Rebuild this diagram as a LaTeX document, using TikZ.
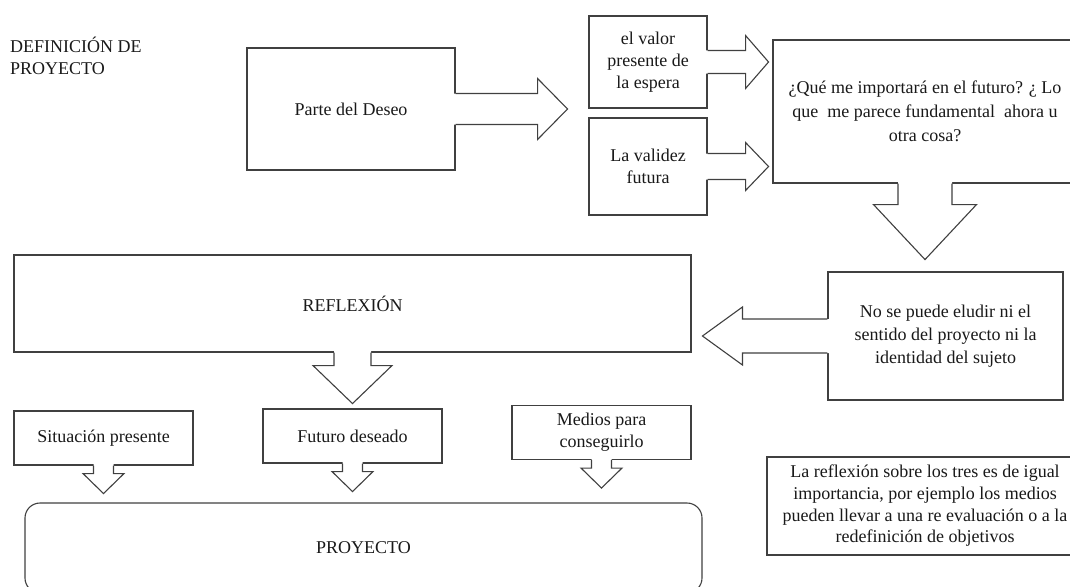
\documentclass[tikz,border=0pt]{standalone}
\usepackage{fontspec}
\setmainfont{Liberation Serif}

\tikzset{
    box/.style={draw=black!75, line width=1.1pt, fill=white, inner sep=0pt, align=center,
        text=black!90, font=\fontsize{18}{22}\selectfont},
    outline/.style={draw=black!75, line width=1.1pt, line join=miter},
    % block arrow: #1 shaft length, #2 half shaft, #3 half head, #4 head length
    pics/blockarrow/.style n args={4}{code={
        \fill[white] (-2,-#2) -- (#1,-#2) -- (#1,-#3) -- (#1+#4,0) -- (#1,#3) -- (#1,#2) -- (-2,#2) -- cycle;
        \draw[outline] (0,-#2) -- (#1,-#2) -- (#1,-#3) -- (#1+#4,0) -- (#1,#3) -- (#1,#2) -- (0,#2);
    }}
}

\begin{document}
\begin{tikzpicture}[x=1pt,y=-1pt]

    % page frame
    \useasboundingbox (0,0) rectangle (1070,586);

    % title
    \node[anchor=west, align=left, inner sep=0pt, text=black!90, font=\fontsize{18}{21.5}\selectfont]
        (titulo) at (10,56) {DEFINICIÓN DE\\PROYECTO};

    % top row
    \node[box, minimum width=208pt, minimum height=122pt] (parte) at (351,109) {Parte del Deseo};
    \node[box, minimum width=118pt, minimum height=92pt] (valor) at (648,62) {el valor\\presente de\\la espera};
    \node[box, minimum width=118pt, minimum height=97pt] (validez) at (648,166.5) {La validez\\futura};
    \node[box, minimum width=304pt, minimum height=143pt, font=\fontsize{18}{24}\selectfont]
        (pregunta) at (925,111.5) {¿Qué me importará en el futuro? ¿ Lo\\que~ me parece fundamental~ ahora u\\otra cosa?};

    % middle row
    \node[box, minimum width=677pt, minimum height=97pt] (reflexion) at (352.5,303.5) {REFLEXIÓN};
    \node[box, minimum width=235pt, minimum height=128pt, font=\fontsize{18}{23}\selectfont]
        (nopuede) at (945.5,336) {No se puede eludir ni el\\sentido del proyecto ni la\\identidad del sujeto};

    % bottom row
    \foreach \name/\pos/\txt in {situacion/{(103.5,438)}/{Situación presente},
                                 futuro/{(352.5,436)}/{Futuro deseado},
                                 medios/{(601.5,432.5)}/{Medios para\\conseguirlo}}
        \node[box, minimum width=179pt, minimum height=54pt] (\name) at \pos {\txt};

    \node[box, rounded corners=15pt, minimum width=677pt, minimum height=90pt] (proyecto) at (363.5,548) {PROYECTO};
    \node[box, minimum width=316pt, minimum height=98pt, font=\fontsize{18}{21.7}\selectfont]
        (nota) at (925,506) {La reflexión sobre los tres es de igual\\importancia, por ejemplo los medios\\pueden llevar a una re evaluación o a la\\redefinición de objetivos};

    % block arrows
    \pic at (parte.east) {blockarrow={82}{15.5}{30.5}{30}};
    \pic at (valor.east) {blockarrow={38}{11.5}{26.5}{23}};
    \pic at (validez.east) {blockarrow={38}{13}{24}{23}};
    \pic[rotate=-90] at (pregunta.south) {blockarrow={21}{27}{51.5}{55}};
    \pic[rotate=180] at (nopuede.west) {blockarrow={85}{17}{29}{40}};
    \pic[rotate=-90] at (reflexion.south) {blockarrow={13}{18.5}{39.5}{38}};
    \foreach \b in {situacion,futuro,medios}
        \pic[rotate=-90] at (\b.south) {blockarrow={8}{10}{20.5}{20}};

\end{tikzpicture}
\end{document}
